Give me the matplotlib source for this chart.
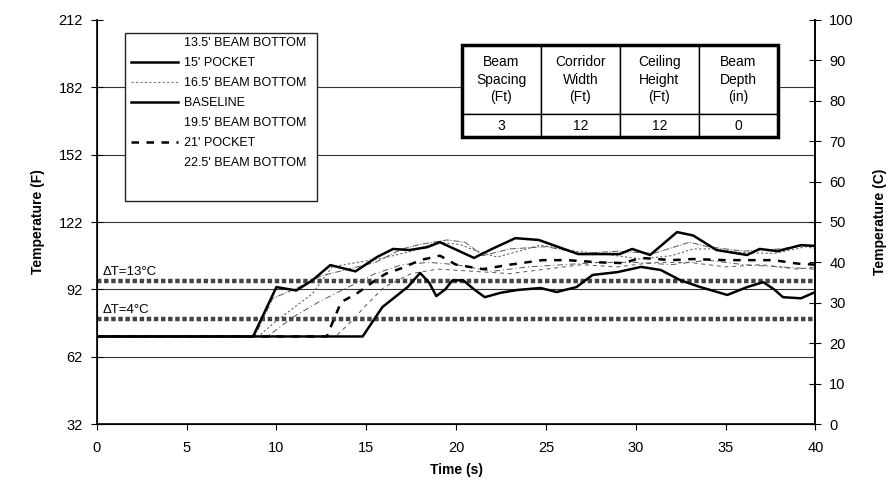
import matplotlib
matplotlib.use("Agg")
import matplotlib.pyplot as plt
from matplotlib.lines import Line2D
from matplotlib.patches import Rectangle

plt.rcParams["font.family"] = ["Liberation Sans", "DejaVu Sans"]

# time (s) / temperature (F)
t_135 = [0, 8.8, 9.8, 11, 12.5, 14, 15.5, 17, 18, 19.5, 20.5, 21.5, 23, 25, 27, 29, 31, 33, 34, 36, 38, 40]
v_135 = [71, 71, 88, 92, 98, 101, 104, 110, 112, 114, 113, 107, 110, 111, 108, 109, 108, 113, 111, 109, 110, 112]

t_15p = [0, 8.7, 10, 11.1, 12, 13, 14.4, 15.6, 16.5, 17.4, 18.4, 19.1, 21, 22, 23.3, 24.6, 26.8,
         29.1, 29.8, 30.8, 32.3, 33.2, 34.5, 36.2, 36.9, 37.9, 39.2, 40]
v_15p = [71, 71, 93, 91.5, 96, 102.8, 100, 106.4, 110, 109.5, 110.8, 113, 106, 110, 114.8, 114, 107.7,
         107.7, 110, 107.3, 117.5, 116, 109.5, 107.3, 110, 109, 111.7, 111.3]

t_165 = [0, 9, 10, 11, 12, 13.1, 14.5, 16, 17.5, 19, 20.2, 21.5, 22.3, 23.5, 24.7, 26.8, 28, 30.3,
         32, 33.2, 34.3, 35.8, 37.7, 39.5, 40]
v_165 = [71, 71, 78, 84, 90, 102, 104, 106, 109, 113, 112, 108, 106.4, 109, 111.7, 108.8, 108, 105.5,
         107, 110, 110, 108.4, 108, 111, 110]

t_base = [0, 14.8, 15.9, 17.3, 18, 18.5, 18.9, 19.4, 19.8, 20.4, 21, 21.6, 22.5, 23.4, 24.7, 25.6,
          26.7, 27.6, 29, 30.3, 31.4, 32.5, 33.6, 35.1, 36.2, 37.1, 37.7, 38.2, 39.2, 40]
v_base = [71, 71, 84.1, 93, 99.3, 95, 89, 92, 96, 96, 92, 88.5, 90.5, 91.7, 92.6, 90.8,
          93, 98.4, 99.7, 102, 100.6, 96, 93, 89.5, 93, 95.2, 92, 88.5, 88, 90.8]

t_195 = [0, 9.5, 11, 12.5, 14, 15.5, 17, 18.5, 20, 22, 24, 26, 28, 30, 32, 34, 36, 38, 40]
v_195 = [71, 71, 80, 87, 93, 99, 103, 104, 103, 100, 102, 103, 104, 104, 103, 105, 103, 102, 101]

t_21p = [0, 12.8, 13.6, 14.5, 15.5, 16.1, 17, 18, 19.1, 20, 21.5, 23, 24.8, 26.2, 28, 29.3, 30.3,
         32, 33.2, 35, 37.7, 38.8, 39.2, 40]
v_21p = [71, 71, 86.3, 90.3, 96, 99, 101.5, 105, 107, 103, 101, 103, 105, 105, 104, 103.7, 106,
         105, 105.5, 105, 105, 103.7, 103.3, 103]

t_225 = [0, 13.3, 14.2, 15, 16, 17.5, 19, 21, 23, 25, 27, 29, 31, 33, 35, 37, 39, 40]
v_225 = [71, 71, 78, 85, 93, 99, 101, 100, 99, 101, 103, 102, 104, 104, 102, 103, 101, 102]

labels = ["13.5' BEAM BOTTOM", "15' POCKET", "16.5' BEAM BOTTOM", "BASELINE",
          "19.5' BEAM BOTTOM", "21' POCKET", "22.5' BEAM BOTTOM"]

dt13_f = 95.5
dt4_f = 78.8

f_ticks = [32, 62, 92, 122, 152, 182, 212]
grid_f = [62, 92, 122, 152, 182]
c_ticks = list(range(0, 101, 10))
x_ticks = list(range(0, 41, 5))

tbl_head = ["Beam\nSpacing\n(Ft)", "Corridor\nWidth\n(Ft)", "Ceiling\nHeight\n(Ft)", "Beam\nDepth\n(in)"]
tbl_vals = ["3", "12", "12", "0"]

fig = plt.figure(figsize=(8.96, 5.0), dpi=100)
ax = fig.add_axes([0.108, 0.152, 0.802, 0.808])

for g in grid_f:
    ax.axhline(g, color="#333333", lw=0.8, zorder=1)

# threshold bands
ax.axhline(dt13_f, color="#444444", lw=3.2, ls=(0, (1.0, 0.6)), zorder=2)
ax.axhline(dt4_f, color="#444444", lw=3.2, ls=(0, (1.0, 0.6)), zorder=2)
ax.text(0.3, dt13_f + 1.4, "ΔT=13°C", fontsize=9.5, va="bottom", ha="left")
ax.text(0.3, dt4_f + 1.4, "ΔT=4°C", fontsize=9.5, va="bottom", ha="left")

ax.plot(t_135, v_135, color="#555555", lw=0.7, ls="-.", zorder=3)
ax.plot(t_195, v_195, color="#555555", lw=0.7, ls=(0, (6, 3, 1, 3)), zorder=3)
ax.plot(t_225, v_225, color="#555555", lw=0.7, ls=(0, (4, 4)), zorder=3)
ax.plot(t_165, v_165, color="#666666", lw=0.8, ls=(0, (2, 2)), zorder=3)
ax.plot(t_21p, v_21p, color="black", lw=1.8, ls=(0, (3, 3)), zorder=4)
ax.plot(t_base, v_base, color="black", lw=1.8, zorder=4)
ax.plot(t_15p, v_15p, color="black", lw=1.8, zorder=4)

ax.set_xlim(0, 40)
ax.set_ylim(32, 212)
ax.set_xticks(x_ticks)
ax.set_yticks(f_ticks)
ax.tick_params(axis="x", direction="out", length=4, labelsize=10.5, pad=8)
ax.tick_params(axis="y", direction="inout", length=8, labelsize=10.5, pad=6)
ax.spines["top"].set_visible(False)
for s in ["left", "bottom", "right"]:
    ax.spines[s].set_linewidth(1.2)
ax.set_xlabel("Time (s)", fontsize=10, fontweight="bold", labelpad=6)
ax.set_ylabel("Temperature (F)", fontsize=10, fontweight="bold", labelpad=10)

ax2 = ax.twinx()
ax2.set_ylim(0, 100)
ax2.set_yticks(c_ticks)
ax2.tick_params(axis="y", direction="inout", length=8, labelsize=10.5, pad=6)
ax2.spines["top"].set_visible(False)
ax2.spines["right"].set_linewidth(1.2)
ax2.set_ylabel("Temperature (C)", fontsize=10, fontweight="bold", labelpad=14)

# legend with its tall frame
ax.add_patch(Rectangle((0.039, 0.552), 0.267, 0.416, transform=ax.transAxes,
                       facecolor="white", edgecolor="#222222", lw=1.0, zorder=6))
handles = [
    Line2D([], [], lw=0),
    Line2D([], [], color="black", lw=1.8),
    Line2D([], [], color="#777777", lw=0.8, ls=(0, (2, 2))),
    Line2D([], [], color="black", lw=1.8),
    Line2D([], [], lw=0),
    Line2D([], [], color="black", lw=1.8, ls=(0, (3, 3))),
    Line2D([], [], lw=0),
]
leg = ax.legend(handles, labels, loc="upper left", bbox_to_anchor=(0.047, 0.958),
                frameon=False, fontsize=9, handlelength=3.8, handletextpad=0.45,
                labelspacing=0.64, borderaxespad=0, borderpad=0)
leg.set_zorder(7)

tb = ax.table(cellText=[tbl_vals], colLabels=tbl_head, cellLoc="center",
              bbox=[0.508, 0.710, 0.440, 0.228])
tb.auto_set_font_size(False)
tb.set_fontsize(10)
tb.set_zorder(8)
for (r, c), cell in tb.get_celld().items():
    cell.set_linewidth(1.0)
    cell.set_facecolor("white")
    cell.set_height(0.75 if r == 0 else 0.25)
    cell.get_text().set_fontsize(10)
    cell.get_text().set_linespacing(1.35)
ax.add_patch(Rectangle((0.508, 0.710), 0.440, 0.228, transform=ax.transAxes,
                       fill=False, edgecolor="black", lw=2.5, zorder=9))

fig.savefig("out.png", dpi=100)
